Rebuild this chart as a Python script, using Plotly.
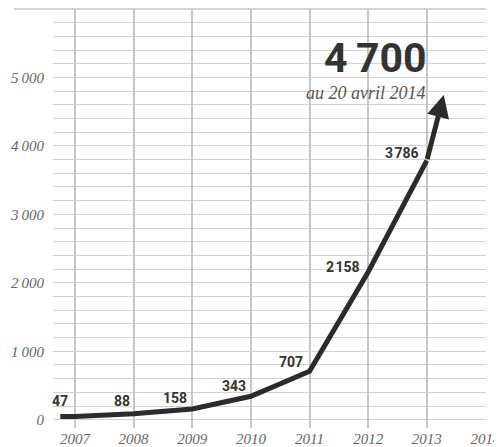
import plotly.graph_objects as go

years = [2007, 2008, 2009, 2010, 2011, 2012, 2013]
values = [47, 88, 158, 343, 707, 2158, 3786]
value_labels = ["47", "88", "158", "343", "707", "2\u200a158", "3\u200a786"]
latest_value = 4700
latest_label = "4\u2009700"
latest_note = "au 20 avril 2014"
x_ticks = [2007, 2008, 2009, 2010, 2011, 2012, 2013, 2014]
y_ticks = [0, 1000, 2000, 3000, 4000, 5000]
y_ticklabels = ["0", "1\u2009000", "2\u2009000", "3\u2009000", "4\u2009000", "5\u2009000"]

LINE = "#2b2b2b"
TXT = "#333333"
GRID_V = "#c6c6c6"
GRID_H = "#d2d2d2"
SERIF = "Liberation Serif, DejaVu Serif, serif"

# line starts slightly before the first year, as in the original
x_line = [years[0] - 0.25] + years
y_line = [values[0]] + values

fig = go.Figure()
fig.add_trace(go.Scatter(
    x=x_line, y=y_line, mode="lines",
    line=dict(color=LINE, width=5), hoverinfo="skip", showlegend=False,
))

# label offsets (pixels) to keep labels clear of the line
dx = [-5, -2, -3, -3, -5, -6, -6]
dy = [16, 13, 11, 10, 9, 5, 8]
annotations = []
for x, y, t, sx, sy in zip(years, values, value_labels, dx, dy):
    annotations.append(dict(
        x=x, y=y, xref="x", yref="y", text=t, showarrow=False,
        xanchor="right", yanchor="middle", xshift=sx, yshift=sy,
        font=dict(family="Roboto", size=14, color=TXT, weight="bold"),
    ))

# arrow toward the latest value
annotations.append(dict(
    x=years[-1] + 0.29, y=latest_value + 45, xref="x", yref="y",
    ax=years[-1], ay=values[-1], axref="x", ayref="y",
    text="", showarrow=True, arrowhead=2, arrowsize=0.9, arrowwidth=5,
    arrowcolor=LINE, standoff=0,
))
annotations.append(dict(
    x=0.867, y=0.822, xref="paper", yref="paper", text=latest_label,
    showarrow=False, xanchor="right", yanchor="bottom",
    font=dict(family="Roboto", size=41, color=TXT, weight="bold"),
))
annotations.append(dict(
    x=0.866, y=0.829, xref="paper", yref="paper", text=latest_note,
    showarrow=False, xanchor="right", yanchor="top",
    font=dict(family=SERIF, size=18, color="#555555", style="italic"),
))

# the page places the figure 8px from the top-left corner
fig.update_layout(
    width=494, height=439,
    margin=dict(l=45, r=16, t=1, b=19),
    paper_bgcolor="white", plot_bgcolor="white",
    showlegend=False,
    annotations=annotations,
    shapes=[dict(type="line", xref="paper", yref="paper",
                 x0=-0.09, x1=1.0, y0=1, y1=1,
                 line=dict(color="#c4c4c4", width=1.5))],
)
fig.update_xaxes(
    range=[2006.625, 2014.01], tickmode="array", tickvals=x_ticks,
    ticktext=[str(v) for v in x_ticks], automargin=False,
    showgrid=True, gridcolor=GRID_V, gridwidth=1.5, zeroline=False,
    showline=False, ticks="",
    tickfont=dict(family=SERIF, size=15, color="#666666", style="italic"),
)
fig.update_yaxes(
    range=[-121, 6000], tickmode="array", tickvals=y_ticks, ticktext=y_ticklabels,
    automargin=False,
    showgrid=True, gridcolor=GRID_H, gridwidth=1, zeroline=False,
    showline=False, ticks="", ticklabelstandoff=8,
    minor=dict(tickmode="linear", tick0=0, dtick=200, showgrid=True,
               gridcolor=GRID_H, gridwidth=1),
    tickfont=dict(family=SERIF, size=15, color="#666666", style="italic"),
)

fig.write_html("out.html")
